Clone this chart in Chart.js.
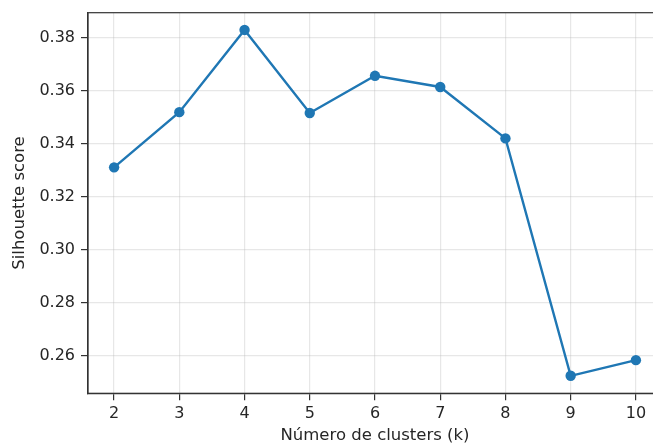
<!DOCTYPE html>
<html>
<head>
<meta charset="utf-8">
<script src="https://cdn.jsdelivr.net/npm/chart.js@4"></script>
<style>
  html, body { margin: 0; padding: 0; background: #fff; overflow: hidden; }
  #wrap { width: 653px; height: 445px; overflow: hidden; }
</style>
</head>
<body>
<div id="wrap"><canvas id="silhouette_chart" width="670" height="445"></canvas></div>
<script>
// values
var ks = [2, 3, 4, 5, 6, 7, 8, 9, 10];
var scores = [0.3310, 0.3518, 0.3828, 0.3515, 0.3655, 0.3613, 0.3419, 0.2524, 0.2583];
var yTicks = [0.26, 0.28, 0.30, 0.32, 0.34, 0.36, 0.38];
var xTicks = [2, 3, 4, 5, 6, 7, 8, 9, 10];

var textColor = '#262626';
var gridColor = 'rgba(176,176,176,0.3)';
var spineColor = '#333';

// matplotlib style frame: draws the top and right spines too
var frame = {
  id: 'frame',
  afterDraw: function(chart) {
    var a = chart.chartArea, ctx = chart.ctx;
    ctx.save();
    ctx.strokeStyle = spineColor;
    ctx.lineWidth = 1.2;
    ctx.strokeRect(a.left, a.top, a.right - a.left, a.bottom - a.top);
    ctx.restore();
  }
};

var points = ks.map(function(k, i) { return { x: k, y: scores[i] }; });

new Chart(document.getElementById('silhouette_chart').getContext('2d'), {
  type: 'line',
  data: {
    datasets: [{
      data: points,
      borderColor: '#1f77b4',
      backgroundColor: '#1f77b4',
      borderWidth: 2.4,
      pointRadius: 5.2,
      pointHoverRadius: 5.2,
      pointBorderWidth: 0,
      tension: 0,
      fill: false
    }]
  },
  options: {
    responsive: false,
    animation: false,
    devicePixelRatio: 1,
    layout: { padding: { top: 12.7, right: 8, bottom: 0, left: 0 } },
    plugins: { legend: { display: false }, tooltip: { enabled: false } },
    scales: {
      x: {
        type: 'linear',
        min: 1.6,
        max: 10.4,
        afterBuildTicks: function(scale) {
          scale.ticks = xTicks.map(function(v) { return { value: v }; });
        },
        afterFit: function(scale) {
          scale.height = 51.7;
          scale.paddingLeft = 0;
          scale.paddingRight = 0;
        },
        grid: { color: gridColor, lineWidth: 1.2, tickColor: spineColor, tickLength: 7, drawTicks: true },
        border: { display: true, color: spineColor, width: 1.2 },
        ticks: {
          color: textColor,
          padding: 4,
          maxRotation: 0,
          font: { family: 'DejaVu Sans', size: 16 }
        },
        title: {
          display: true,
          text: 'Número de clusters (k)',
          color: textColor,
          font: { family: 'DejaVu Sans', size: 16.5, lineHeight: 1.1 },
          padding: { top: 0, bottom: 0 }
        }
      },
      y: {
        type: 'linear',
        min: 0.2458,
        max: 0.3893,
        afterBuildTicks: function(scale) {
          scale.ticks = yTicks.map(function(v) { return { value: v }; });
        },
        afterFit: function(scale) {
          scale.width = 88;
          // the top label sits below the spine, no extra room needed
          scale.paddingTop = 0;
          scale.paddingBottom = 0;
        },
        grid: { color: gridColor, lineWidth: 1.2, tickColor: spineColor, tickLength: 7, drawTicks: true },
        border: { display: true, color: spineColor, width: 1.2 },
        ticks: {
          color: textColor,
          padding: 6,
          font: { family: 'DejaVu Sans', size: 16 },
          callback: function(v) { return v.toFixed(2); }
        },
        title: {
          display: true,
          text: 'Silhouette score',
          color: textColor,
          font: { family: 'DejaVu Sans', size: 16.5, lineHeight: 1.2 },
          padding: { top: 10, bottom: 0 }
        }
      }
    }
  },
  plugins: [frame]
});
</script>
</body>
</html>
